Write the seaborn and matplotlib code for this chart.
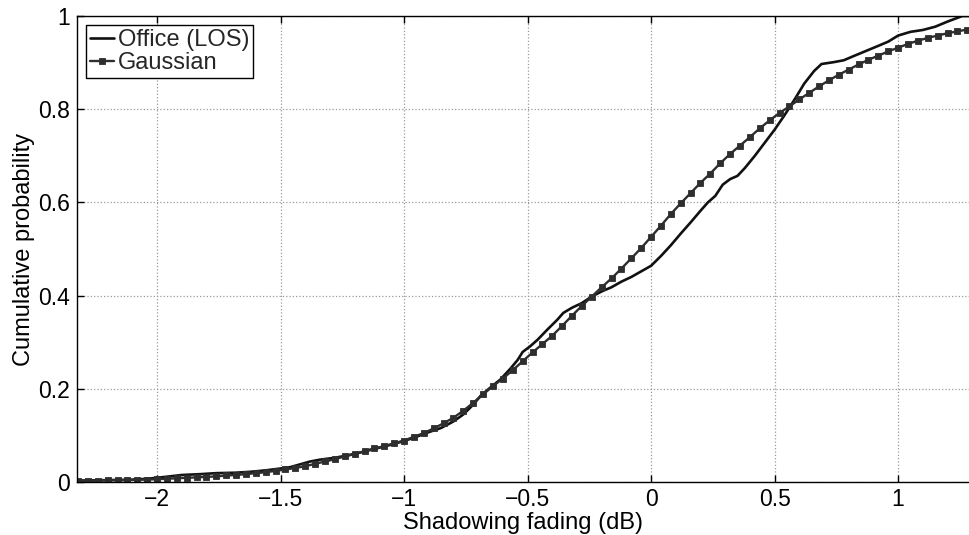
import numpy as np
import pandas as pd
import matplotlib
matplotlib.use("Agg")
import matplotlib.pyplot as plt
import seaborn as sns

# ---- data ----
office_x = [-2.32, -2.20, -2.10, -2.04, -2.00, -1.95, -1.90, -1.82, -1.76, -1.68,
            -1.62, -1.56, -1.50, -1.46, -1.42, -1.38, -1.34, -1.28, -1.23, -1.18,
            -1.12, -1.06, -1.00, -0.95, -0.90, -0.85, -0.80, -0.76, -0.72, -0.69,
            -0.65, -0.61, -0.57, -0.54, -0.52, -0.49, -0.46, -0.42, -0.38, -0.355,
            -0.32, -0.28, -0.24, -0.20, -0.16, -0.12, -0.08, -0.04, 0.00, 0.04,
            0.08, 0.12, 0.16, 0.20, 0.23, 0.26, 0.29, 0.32, 0.35, 0.38,
            0.42, 0.46, 0.50, 0.54, 0.58, 0.62, 0.66, 0.69, 0.74, 0.78,
            0.82, 0.87, 0.92, 0.96, 1.00, 1.05, 1.10, 1.15, 1.20, 1.26, 1.32]
office_y = [0.003, 0.004, 0.005, 0.007, 0.009, 0.012, 0.015, 0.017, 0.019, 0.020,
            0.022, 0.025, 0.029, 0.032, 0.038, 0.044, 0.048, 0.052, 0.057, 0.063,
            0.071, 0.079, 0.088, 0.097, 0.107, 0.116, 0.130, 0.145, 0.166, 0.185,
            0.203, 0.220, 0.243, 0.262, 0.279, 0.291, 0.305, 0.327, 0.348, 0.363,
            0.374, 0.384, 0.398, 0.409, 0.418, 0.430, 0.440, 0.452, 0.464, 0.485,
            0.508, 0.533, 0.557, 0.582, 0.600, 0.614, 0.638, 0.650, 0.657, 0.674,
            0.700, 0.728, 0.756, 0.787, 0.820, 0.855, 0.882, 0.897, 0.901, 0.905,
            0.914, 0.925, 0.936, 0.945, 0.958, 0.966, 0.970, 0.977, 0.988, 1.000, 1.000]

gauss_x = [round(v, 2) for v in np.arange(-2.32, 1.3201, 0.04)]
gauss_y = [0.003, 0.003, 0.003, 0.004, 0.004, 0.004, 0.005, 0.005, 0.006, 0.007,
           0.008, 0.009, 0.010, 0.011, 0.012, 0.014, 0.015, 0.017, 0.019, 0.021,
           0.024, 0.027, 0.030, 0.034, 0.039, 0.044, 0.049, 0.055, 0.060, 0.066,
           0.072, 0.077, 0.083, 0.089, 0.097, 0.105, 0.115, 0.126, 0.138, 0.153,
           0.170, 0.188, 0.206, 0.222, 0.240, 0.259, 0.278, 0.296, 0.314, 0.335,
           0.357, 0.378, 0.398, 0.418, 0.437, 0.458, 0.480, 0.502, 0.526, 0.550,
           0.575, 0.598, 0.620, 0.642, 0.662, 0.684, 0.704, 0.722, 0.740, 0.759,
           0.776, 0.792, 0.806, 0.821, 0.835, 0.849, 0.862, 0.874, 0.885, 0.896,
           0.906, 0.915, 0.924, 0.932, 0.940, 0.947, 0.953, 0.958, 0.963, 0.967,
           0.971, 0.974]

x_ticks = [-2, -1.5, -1, -0.5, 0, 0.5, 1]
y_ticks = [0, 0.2, 0.4, 0.6, 0.8, 1]
y_tick_labels = ["0", "0.2", "0.4", "0.6", "0.8", "1"]

# ---- style ----
sns.set_theme(style="white")
plt.rcParams["font.family"] = ["Liberation Sans", "DejaVu Sans"]
plt.rcParams["axes.unicode_minus"] = True

fig = plt.figure(figsize=(9.69, 5.35), dpi=100)
ax = fig.add_axes([77 / 969, 53 / 535, 892 / 969, 466 / 535])

df_office = pd.DataFrame({"x": office_x, "y": office_y})
n = min(len(gauss_x), len(gauss_y))
df_gauss = pd.DataFrame({"x": gauss_x[:n], "y": gauss_y[:n]})

sns.lineplot(data=df_office, x="x", y="y", ax=ax, color="#111111", linewidth=1.9,
             label="Office (LOS)", sort=False, estimator=None)
sns.lineplot(data=df_gauss, x="x", y="y", ax=ax, color="#2e2e2e", linewidth=1.7,
             marker="s", markersize=3.8, markeredgewidth=0.6, markeredgecolor="#2e2e2e",
             label="Gaussian", sort=False, estimator=None)

ax.set_xlim(-2.324, 1.287)
ax.set_ylim(0, 1)
ax.set_xticks(x_ticks)
ax.set_xticklabels([("\u2212" + str(abs(t))) if t < 0 else str(t) for t in x_ticks])
ax.set_yticks(y_ticks)
ax.set_yticklabels(y_tick_labels)

ax.grid(True, linestyle=":", color="#9a9a9a", linewidth=0.9)
ax.tick_params(axis="both", direction="in", length=5, width=1, colors="black",
               labelsize=16.5, bottom=True, left=True, top=True)
ax.tick_params(axis="x", pad=4)
ax.tick_params(axis="y", pad=5)
for side in ["left", "bottom", "top"]:
    ax.spines[side].set_color("black")
    ax.spines[side].set_linewidth(1.0)
ax.spines["right"].set_visible(False)

ax.set_xlabel("Shadowing fading (dB)", fontsize=17, labelpad=1, color="black")
ax.set_ylabel("Cumulative probability", fontsize=17, labelpad=2, color="black")

leg = ax.legend(loc="upper left", fontsize=17, frameon=True, fancybox=False,
                edgecolor="black", framealpha=1, borderaxespad=0.4,
                handlelength=1.0, handletextpad=0.2, borderpad=0.15,
                labelspacing=0.05)
leg.get_frame().set_linewidth(1.0)

fig.savefig("out.png", dpi=100)
